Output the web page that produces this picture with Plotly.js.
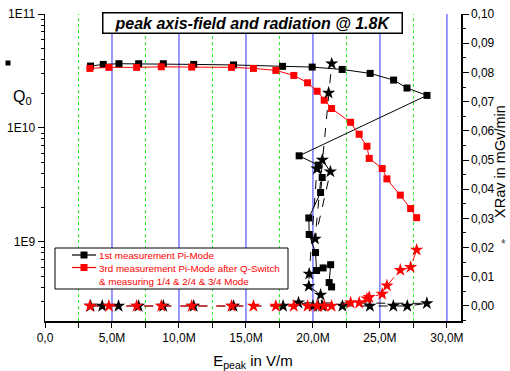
<!DOCTYPE html>
<html>
<head>
<meta charset="utf-8">
<script src="https://cdn.plot.ly/plotly-3.0.1.min.js"></script>
<style>html,body{margin:0;padding:0;background:#fff;}#chart{width:510px;height:371px;}</style>
</head>
<body>
<div id="chart"></div>
<script>
// ---- data (E in MV/m, Q0, X-ray dose rate in mGy/min) ----
const e1 = [3.40, 4.35, 5.52, 6.99, 8.83, 11.1, 14.07, 17.73, 19.94, 22.18, 24.27, 26.02, 27.02, 28.51,
            18.97, 20.39, 20.69, 20.57, 19.69, 19.72, 20.19, 20.27, 20.76, 21.32, 21.21, 21.39];
const q1 = [3.49e10, 3.61e10, 3.66e10, 3.66e10, 3.66e10, 3.61e10, 3.57e10, 3.47e10, 3.42e10, 3.26e10, 3.01e10, 2.63e10, 2.24e10, 1.93e10,
            5.69e9, 4.71e9, 3.67e9, 2.71e9, 1.62e9, 1.16e9, 8.05e8, 5.6e8, 5.9e8, 6.3e8, 4.39e8, 4.02e8];
const e1x = [3.40, 4.27, 5.49, 6.99, 8.83, 11.1, 14.07, 17.77, 20.0, 22.2, 24.25, 26.0, 27.04, 28.5,
             18.92, 20.39, 20.69, 20.57, 19.69, 19.72, 20.3, 20.7, 21.3, 20.16, 21.17, 21.4];
const x1 = [0, 0, 0, 0, 0, 0, 0, 0, 0, 0, 0, 0, 0, 0.0009,
            0.0011, 0, 0, 0.0038, 0.0068, 0.011, 0.047, 0.050, 0.046, 0.023, 0.073, 0.083];

const e3 = [3.35, 4.77, 6.84, 8.68, 10.95, 13.92, 15.56, 17.23, 18.57, 19.6, 20.31, 20.84, 21.39,
            22.81, 23.45, 24.03, 24.2, 25.17, 25.52, 26.52, 27.29, 27.74];
const q3 = [3.33e10, 3.40e10, 3.40e10, 3.44e10, 3.42e10, 3.40e10, 3.33e10, 3.20e10, 2.89e10, 2.49e10, 2.10e10, 1.75e10, 1.48e10,
            1.12e10, 8.8e9, 6.9e9, 5.4e9, 4.4e9, 3.57e9, 2.57e9, 1.96e9, 1.63e9];
const x3 = [0, 0, 0, 0, 0, 0, 0, 0, 0, 0, 0, 0, 0,
            0.0011, 0.0011, 0.0025, 0.003, 0.0041, 0.007, 0.0123, 0.0133, 0.0192];

const xTickVals = [0, 5, 10, 15, 20, 25, 30];
const xTickText = ['0,0', '5,0M', '10,0M', '15,0M', '20,0M', '25,0M', '30,0M'];
const xMinorVals = [2.5, 7.5, 12.5, 17.5, 22.5, 27.5];
const yTickVals = [1e9, 1e10, 1e11];
const yTickText = ['1E9', '1E10', '1E11'];
const y2TickVals = [0, 0.01, 0.02, 0.03, 0.04, 0.05, 0.06, 0.07, 0.08, 0.09, 0.10];
const y2TickText = ['0,00', '0,01', '0,02', '0,03', '0,04', '0,05', '0,06', '0,07', '0,08', '0,09', '0,10'];
const legendText = ['1st measurement Pi-Mode',
                    '3rd measurement Pi-Mode after Q-Switch<br>&amp; measuring 1/4 &amp; 2/4 &amp; 3/4 Mode'];

const M = v => v.map(a => a * 1e6);

const traces = [
  {x: M(e1), y: q1, type: 'scatter', mode: 'lines+markers', name: '1st measurement Pi-Mode',
   line: {color: '#000', width: 1}, marker: {symbol: 'square', size: 7, color: '#000'}},
  {x: M(e3), y: q3, type: 'scatter', mode: 'lines+markers', name: '3rd measurement Pi-Mode after Q-Switch',
   line: {color: '#ff0000', width: 1}, marker: {symbol: 'square', size: 7, color: '#ff0000'}},
  {x: M(e1x), y: x1, yaxis: 'y2', type: 'scatter', mode: 'lines+markers',
   line: {color: '#000', width: 1, dash: 'dash'}, marker: {symbol: 'star', size: 10, color: '#000'}},
  {x: M(e3), y: x3, yaxis: 'y2', type: 'scatter', mode: 'lines+markers',
   line: {color: '#ff0000', width: 1, dash: 'dash'}, marker: {symbol: 'star', size: 10, color: '#ff0000'}}
];

// pixel -> paper helpers for decorations (plot area: x 45..461, y 14..321)
const px = v => (v - 45) / 416;
const py = v => (321 - v) / 307;

const font = 'Liberation Sans, Arial, sans-serif';
const legendColors = ['#000', '#ff0000'];
const legendRows = [255, 267.5];

const shapes = [];
// vertical grid lines (blue solid at major ticks, green dotted at minor ticks)
xTickVals.slice(1).forEach(v => shapes.push({type: 'line', xref: 'x', yref: 'paper', x0: v * 1e6, x1: v * 1e6,
  y0: 0, y1: 1, line: {color: '#3333ff', width: 1}, layer: 'below'}));
xMinorVals.forEach(v => shapes.push({type: 'line', xref: 'x', yref: 'paper', x0: v * 1e6, x1: v * 1e6,
  y0: 0, y1: 1, line: {color: '#22ee22', width: 1, dash: 'dot'}, layer: 'below'}));
// stray Origin symbol beside Q0
shapes.push({type: 'rect', xref: 'paper', yref: 'paper', x0: px(5.5), x1: px(10.5), y0: py(65.5), y1: py(60.5),
   fillcolor: '#000', line: {width: 0}});
// legend frame
shapes.push({type: 'rect', xref: 'paper', yref: 'paper', x0: px(55), x1: px(288), y0: py(289), y1: py(248),
   fillcolor: '#fff', line: {color: '#000', width: 1}, layer: 'above'});

const annotations = [
  {xref: 'paper', yref: 'paper', x: px(252), y: py(22.5), xanchor: 'center', yanchor: 'middle',
   text: '<b><i>peak axis-field and radiation @ 1.8K</i></b>', showarrow: false,
   font: {family: font, size: 16, color: '#000'}, bgcolor: '#fff', bordercolor: '#000', borderwidth: 1.5,
   width: 296, height: 17, borderpad: 1},
  {xref: 'paper', yref: 'paper', x: px(22), y: py(97), xanchor: 'center', yanchor: 'middle',
   text: 'Q<sub>0</sub>', showarrow: false, font: {family: font, size: 16, color: '#000'}},
  {xref: 'paper', yref: 'paper', x: px(500), y: py(162), xanchor: 'center', yanchor: 'middle',
   text: 'XRav in mGv/min', textangle: -90, showarrow: false, font: {family: font, size: 14.5, color: '#000'}},
  {xref: 'paper', yref: 'paper', x: px(503), y: py(244), xanchor: 'center', yanchor: 'middle',
   text: '*', showarrow: false, font: {family: font, size: 12, color: '#444'}}
];
legendColors.forEach((c, i) => {
  const yy = legendRows[i];
  shapes.push({type: 'line', xref: 'paper', yref: 'paper', x0: px(72), x1: px(96), y0: py(yy), y1: py(yy),
               line: {color: c, width: 1.2}, layer: 'above'});
  shapes.push({type: 'rect', xref: 'paper', yref: 'paper', x0: px(80.5), x1: px(87.5), y0: py(yy + 3.5), y1: py(yy - 3.5),
               fillcolor: c, line: {width: 0}, layer: 'above'});
  annotations.push({xref: 'paper', yref: 'paper', x: px(97), y: py(yy - 7), xanchor: 'left', yanchor: 'top',
                    align: 'left', text: legendText[i], showarrow: false,
                    font: {family: font, size: 9.8, color: '#ff0000'}});
});

const layout = {
  width: 510, height: 371,
  margin: {l: 45, r: 49, t: 14, b: 50, pad: 0},
  paper_bgcolor: '#fff', plot_bgcolor: '#fff',
  font: {family: font, size: 12, color: '#000'},
  showlegend: false,
  xaxis: {
    range: [0, 31.05e6], tickmode: 'array', tickvals: M(xTickVals), ticktext: xTickText,
    showline: true, linecolor: '#000', linewidth: 1.5, zeroline: false, showgrid: false,
    ticks: 'outside', ticklen: 5, tickcolor: '#000', tickwidth: 1,
    minor: {tickmode: 'array', tickvals: M(xMinorVals), ticks: 'outside', ticklen: 5, tickcolor: '#000', showgrid: false},
    title: {text: 'E<sub>peak</sub> in V/m', font: {size: 15}, standoff: 12},
    tickfont: {size: 12}
  },
  yaxis: {
    type: 'log', range: [8.305, 11], tickmode: 'array', tickvals: yTickVals, ticktext: yTickText,
    showline: true, linecolor: '#000', linewidth: 1.5, zeroline: false, showgrid: false,
    ticks: 'outside', ticklen: 6, tickcolor: '#000',
    minor: {dtick: 'D1', ticks: 'outside', ticklen: 3, tickcolor: '#000', showgrid: false},
    tickfont: {size: 12}
  },
  yaxis2: {
    overlaying: 'y', side: 'right', range: [-0.00514, 0.1],
    tickmode: 'array', tickvals: y2TickVals, ticktext: y2TickText,
    showline: true, linecolor: '#000', linewidth: 1.5, zeroline: false, showgrid: false,
    ticks: 'outside', ticklen: 6, tickcolor: '#000',
    minor: {dtick: 0.005, tick0: 0, ticks: 'outside', ticklen: 3, tickcolor: '#000', showgrid: false},
    tickfont: {size: 12}
  },
  annotations: annotations,
  shapes: shapes
};

Plotly.newPlot('chart', traces, layout, {staticPlot: true, displayModeBar: false});
</script>
</body>
</html>
